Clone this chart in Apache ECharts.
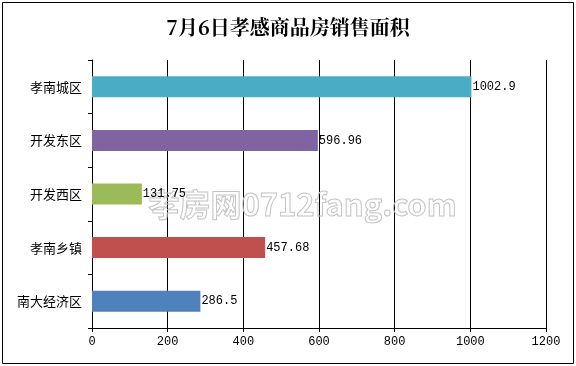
<!DOCTYPE html>
<html><head><meta charset="utf-8">
<script src="https://cdn.jsdelivr.net/npm/echarts@6/dist/echarts.min.js"></script>
<style>html,body{margin:0;padding:0;background:#fff}#c{width:576px;height:366px}</style>
</head><body><div id="c"></div>
<script>
const categories = ['孝南城区','开发东区','开发西区','孝南乡镇','南大经济区'];
const values = [1002.9, 596.96, 131.75, 457.68, 286.5];
const colors = ['#4bacc6','#8064a2','#9bbb59','#c0504d','#4f81bd'];
const valueLabels = ['1002.9','596.96','131.75','457.68','286.5'];
const title = '7月6日孝感商品房销售面积';
const xTicks = ['0','200','400','600','800','1000','1200'];

const chart = echarts.init(document.getElementById('c'));
const mono = '"Liberation Mono", "DejaVu Sans Mono", monospace';
chart.setOption({
  animation: false,
  title: {text: title, left: 'center', top: 12,
    textStyle: {fontFamily: '"Noto Serif CJK SC","Noto Sans CJK SC", serif', fontSize: 20, fontWeight: 'bold', color: '#000'}},
  graphic: [
    {type: 'rect', shape: {x: 2.5, y: 2.5, width: 571, height: 361}, style: {fill: null, stroke: '#000', lineWidth: 1}, z: 0},
    {type: 'text', left: 148, top: 188, z: 1,
      style: {text: '孝房网0712fang.com', font: 'bold 31px "Noto Sans CJK SC", sans-serif', fill: 'rgba(255,255,255,0)', stroke: '#c4c4c4', lineWidth: 1}}
  ],
  grid: {left: 92, right: 30, top: 60, bottom: 38},
  xAxis: {type: 'value', min: 0, max: 1200, interval: 200,
    axisLine: {show: true, lineStyle: {color: '#000'}},
    axisTick: {show: true, length: 4, lineStyle: {color: '#000'}},
    splitLine: {show: true, lineStyle: {color: '#000'}},
    axisLabel: {color: '#000', fontFamily: mono, fontSize: 12, margin: 8,
      formatter: (v) => xTicks[Math.round(v / 200)]}},
  yAxis: {type: 'category', data: categories, inverse: true,
    axisLine: {show: true, lineStyle: {color: '#000'}},
    axisTick: {show: true, length: 4, lineStyle: {color: '#000'}},
    axisLabel: {color: '#000', fontFamily: '"Noto Sans CJK SC", sans-serif', fontSize: 13, margin: 10}},
  series: [{type: 'bar', barWidth: 21,
    data: values.map((v,i)=>({value: v, itemStyle: {color: colors[i]}, label: {formatter: valueLabels[i]}})),
    label: {show: true, position: 'right', distance: 1, color: '#000', fontFamily: mono, fontSize: 12},
    z: 3}]
});
</script></body></html>
